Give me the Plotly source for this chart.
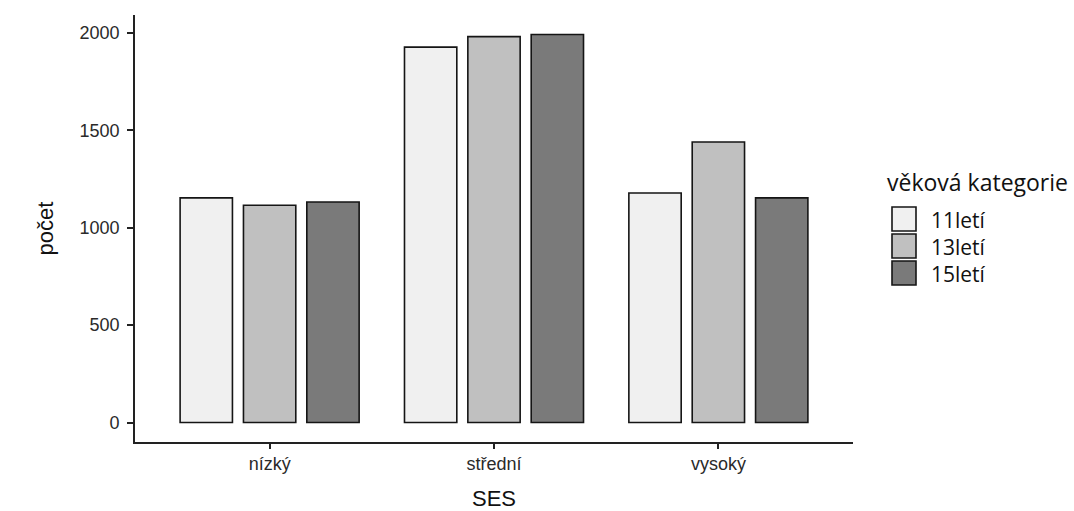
import plotly.graph_objects as go

categories = ["nízký", "střední", "vysoký"]
series_names = ["11letí", "13letí", "15letí"]
values_11 = [1153, 1927, 1178]
values_13 = [1115, 1981, 1440]
values_15 = [1132, 1992, 1153]
series_values = [values_11, values_13, values_15]
colors = ["#f0f0f0", "#c0c0c0", "#7a7a7a"]
y_ticks = [0, 500, 1000, 1500, 2000]

W, H = 1074, 511
L, R, T, B = 135, 221, 15, 69
pw, ph = W - L - R, H - T - B

fig = go.Figure()
for name, vals, col in zip(series_names, series_values, colors):
    fig.add_trace(go.Bar(
        x=categories, y=vals, name=name,
        marker=dict(color=col, line=dict(color="#151515", width=1.6)),
        showlegend=False,
    ))

tick_font = dict(family="Liberation Sans, Arial, sans-serif", size=18, color="#2a2a2a")
title_font = dict(family="Liberation Sans, Arial, sans-serif", size=22, color="#111111")

fig.update_layout(
    width=W, height=H,
    margin=dict(l=L, r=R, t=T, b=B, pad=0),
    paper_bgcolor="white", plot_bgcolor="white",
    barmode="group", bargap=0.153, bargroupgap=0.174,
    xaxis=dict(
        type="category", range=[-0.6, 2.6], automargin=False,
        showline=True, linecolor="#222222", linewidth=1.6,
        ticks="outside", ticklen=5, tickwidth=1.6, tickcolor="#222222",
        tickfont=tick_font, showgrid=False, zeroline=False,
        title=dict(text="SES", font=title_font, standoff=18),
    ),
    yaxis=dict(
        range=[-100, 2092], tickvals=y_ticks, automargin=False,
        showline=True, linecolor="#222222", linewidth=1.6,
        ticks="outside", ticklen=6, tickwidth=1.6, tickcolor="#222222",
        tickfont=tick_font, showgrid=False, zeroline=False,
        ticklabelstandoff=4,
        title=dict(text="počet", font=title_font, standoff=20),
    ),
)

def px(x):
    return (x - L) / pw

def py(y):
    return (T + ph - y) / ph

title_lfont = dict(family="Open Sans, Noto Sans, sans-serif", size=23, color="#111111")
legend_font = dict(family="Open Sans, Noto Sans, sans-serif", size=21, color="#111111")
fig.add_annotation(
    text="věková kategorie", x=px(885), y=py(182), xref="paper", yref="paper",
    xanchor="left", yanchor="middle", showarrow=False, font=title_lfont,
)
box = 24
step = 27
for i, (name, col) in enumerate(zip(series_names, colors)):
    y0 = 207 + i * step
    fig.add_shape(
        type="rect", xref="paper", yref="paper",
        x0=px(892), x1=px(892 + box), y0=py(y0 + box), y1=py(y0),
        fillcolor=col, line=dict(color="#151515", width=1.6),
    )
    fig.add_annotation(
        text=name, x=px(929), y=py(y0 + box / 2 + 1), xref="paper", yref="paper",
        xanchor="left", yanchor="middle", showarrow=False, font=legend_font,
        height=26,
    )

fig.write_html(
    "out.html",
    config={"displayModeBar": False},
    post_script="document.body.style.margin='0';",
)
